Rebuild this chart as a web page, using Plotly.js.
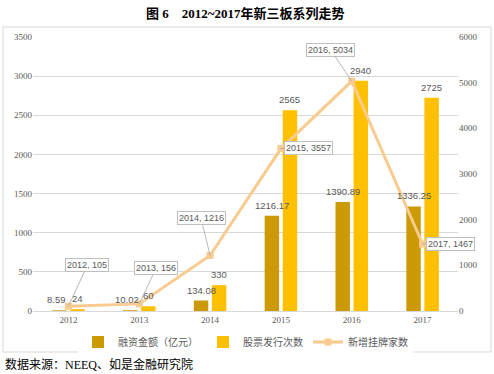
<!DOCTYPE html>
<html><head><meta charset="utf-8">
<script src="https://cdn.plot.ly/plotly-3.0.1.min.js"></script>
<style>html,body{margin:0;padding:0;background:#fff;}#c{width:494px;height:374px;}</style>
</head><body><div id="c"></div>
<script>
const years = ['2012','2013','2014','2015','2016','2017'];
const financing = [8.59, 10.02, 134.08, 1216.17, 1390.89, 1336.25];
const issuances = [24, 60, 330, 2565, 2940, 2725];
const newListings = [105, 156, 1216, 3557, 5034, 1467];
const leftTicks = [0,500,1000,1500,2000,2500,3000,3500];
const rightTicks = [0,1000,2000,3000,4000,5000,6000];

const labelOffsets = [[19,-41],[17,-36],[-9,-37],[28,-1],[-21,-31],[28,0]];
const serif = '"Liberation Serif", "Noto Sans CJK SC", serif';
const sans = '"Liberation Sans", Arial, sans-serif';
const gray = '#595959';
const barShift = 0.1275;

const traces = [
  {type:'bar', name:'融资金额（亿元）', x:years, y:financing, marker:{color:'#CC9A06'}},
  {type:'bar', name:'股票发行次数', x:years, y:issuances, marker:{color:'#FFC000'}},
  {type:'scatter', mode:'lines+markers', name:'新增挂牌家数', x:years, y:newListings, yaxis:'y2',
   line:{color:'#F9CB8F',width:3}, marker:{symbol:'square',size:7,color:'#F9CB8F'}, cliponaxis:false}
];

const annotations = [];
financing.forEach((v,i)=>annotations.push({x:i-barShift-(i<2?0.04:0), y:v, xref:'x', yref:'y', yanchor:'bottom', yshift:3,
  text:String(v), showarrow:false, font:{family:sans,size:9.5,color:gray}}));
issuances.forEach((v,i)=>annotations.push({x:i+barShift, y:v, xref:'x', yref:'y', yanchor:'bottom', yshift:3,
  text:String(v), showarrow:false, font:{family:sans,size:9.5,color:gray}}));
years.forEach((yr,i)=>annotations.push({
  x:i, y:newListings[i], xref:'x', yref:'y2',
  text: yr + ', ' + newListings[i],
  showarrow:true, arrowhead:0, arrowwidth:0.8, arrowcolor:'#a6a6a6',
  ax:labelOffsets[i][0], ay:labelOffsets[i][1],
  bgcolor:'#fff', bordercolor:'#bfbfbf', borderwidth:1, borderpad:1,
  font:{family:sans,size:9,color:gray}
}));
annotations.push({xref:'paper',yref:'paper',x:0.5,y:1.085,xanchor:'center',yanchor:'middle',
  text:'<b>图 6　2012~2017年新三板系列走势</b>', showarrow:false,
  font:{family:serif,size:13,color:'#000'}});
annotations.push({xref:'paper',yref:'paper',x:-0.07,y:-0.195,xanchor:'left',yanchor:'middle',
  text:'数据来源：NEEQ、如是金融研究院', showarrow:false,
  font:{family:serif,size:12,color:'#000'}});

const layout = {
  width:494, height:374,
  margin:{l:33,r:36,t:37,b:63},
  paper_bgcolor:'#fff', plot_bgcolor:'#fff',
  showlegend:true,
  legend:{orientation:'h', x:0.5, xanchor:'center', y:-0.06, yanchor:'top',
    font:{family:serif,size:10,color:gray}, tracegroupgap:0},
  bargap:0.49, bargroupgap:0.2,
  xaxis:{type:'category', range:[-0.5,5.5], autorange:false, tickfont:{family:serif,size:9,color:gray}, showline:true,
    linecolor:'#d9d9d9', linewidth:1, ticks:''},
  yaxis:{range:[0,3500], autorange:false, tickvals:leftTicks, tickfont:{family:serif,size:9,color:gray},
    showgrid:true, gridcolor:'#d9d9d9', zeroline:false, ticks:''},
  yaxis2:{range:[0,6000], autorange:false, tickvals:rightTicks, overlaying:'y', side:'right',
    tickfont:{family:serif,size:9,color:gray}, showgrid:false, zeroline:false, ticks:''},
  annotations:annotations,
  shapes:[{type:'rect', xref:'paper', yref:'paper', x0:-0.0706, x1:1.0776, y0:-0.1496, y1:1.0365,
    line:{color:'#d9d9d9',width:1}, fillcolor:'rgba(0,0,0,0)', layer:'below'}]
};
Plotly.newPlot('c', traces, layout, {displayModeBar:false, staticPlot:true});
</script></body></html>
